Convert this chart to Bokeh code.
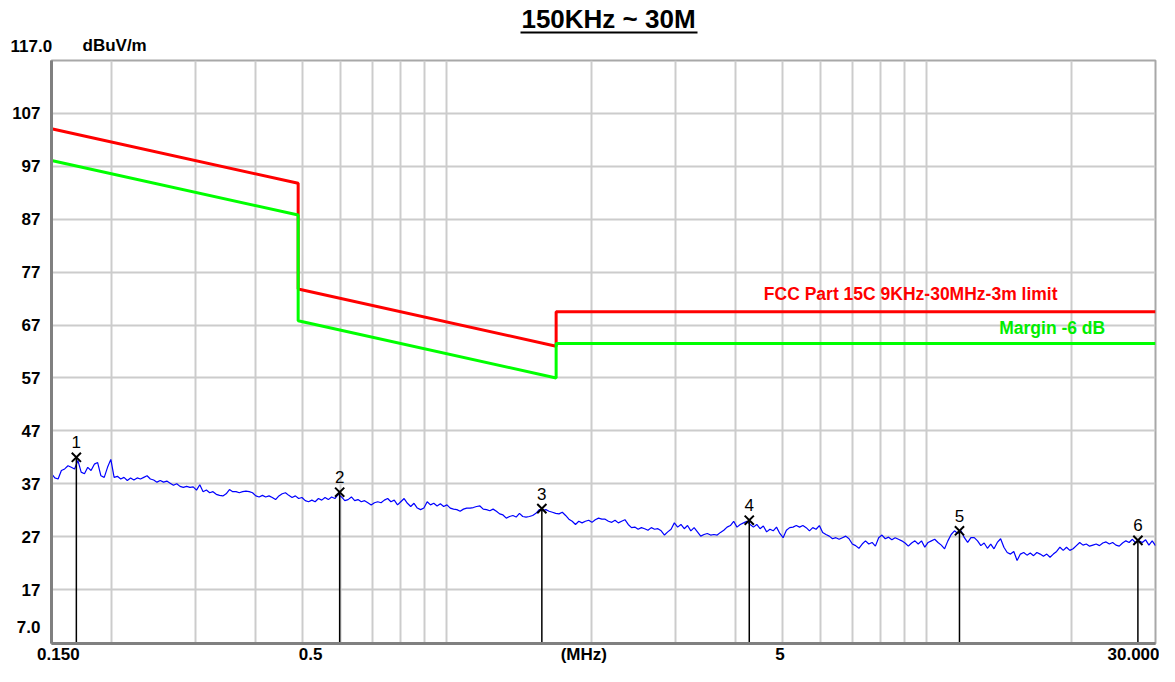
import numpy as np
from bokeh.plotting import figure
from bokeh.layouts import column
from bokeh.models import Range1d, FixedTicker, Label, ColumnDataSource
from bokeh.core.properties import value
from bokeh.embed import file_html
from bokeh.resources import INLINE

# ---------------- data ----------------
title_text = "150KHz ~ 30M"
y_unit = "dBuV/m"
y_top_label = "117.0"
y_bottom_label = "7.0"
y_ticks = [107, 97, 87, 77, 67, 57, 47, 37, 27, 17]
x_tick_labels = ["0.150", "0.5", "(MHz)", "5", "30.000"]
x_label_pos = [0.155, 0.52, 1.93, 4.95, 27.0]
x_grid = [0.2, 0.3, 0.4, 0.5, 0.6, 0.7, 0.8, 0.9, 1, 2, 3, 4, 5, 6, 7, 8, 9, 10, 20]

limit_name = "FCC Part 15C 9KHz-30MHz-3m limit"
margin_name = "Margin -6 dB"
limit_f = [0.15, 0.49, 0.49, 1.69, 1.69, 30]
limit_db = [104.1, 93.8, 73.8, 63.0, 69.5, 69.5]
margin_db = [98.1, 87.8, 67.8, 57.0, 63.5, 63.5]

marker_id = ["1", "2", "3", "4", "5", "6"]
marker_f = [0.169, 0.598, 1.578, 4.27, 11.71, 27.57]
marker_db = [42.0, 35.4, 32.3, 30.1, 28.1, 26.3]

# measured trace (sweep points, 0.15 - 30 MHz)
trace_db = [
    38.9, 38.1, 37.9, 39.5, 39.8, 40.4, 40.1, 39.8, 41.4, 39.2, 38.9, 40.1, 39.5, 40.7,
    41.0, 38.5, 38.2, 40.1, 41.6, 38.2, 38.4, 37.9, 38.2, 37.6, 38.1, 37.7, 38.1, 37.9,
    38.2, 38.5, 37.9, 37.7, 37.3, 37.6, 37.3, 37.5, 37.1, 36.7, 37.0, 36.5, 36.3, 36.5,
    36.3, 36.4, 35.8, 36.8, 35.5, 35.8, 35.3, 35.5, 35.0, 34.8, 34.7, 35.1, 35.9, 35.5,
    35.5, 35.3, 35.5, 35.6, 35.5, 35.3, 34.7, 34.5, 34.8, 34.5, 34.7, 34.4, 34.0, 34.7,
    35.1, 35.3, 34.8, 34.4, 34.7, 34.2, 34.4, 33.8, 33.6, 33.9, 33.6, 34.2, 33.9, 34.4,
    34.0, 34.5, 34.2, 35.0, 34.5, 33.8, 34.0, 34.5, 33.8, 34.0, 33.6, 33.8, 33.4, 33.0,
    33.4, 33.6, 33.4, 33.9, 34.2, 33.6, 33.9, 33.0, 33.6, 34.2, 33.3, 32.7, 33.3, 32.4,
    32.1, 32.4, 33.6, 33.0, 33.3, 32.8, 33.2, 32.7, 33.0, 32.4, 32.2, 32.1, 31.8, 32.2,
    32.4, 32.4, 32.5, 32.7, 32.8, 32.2, 32.1, 31.9, 32.2, 31.8, 31.3, 31.1, 30.5, 30.8,
    31.0, 30.7, 31.4, 30.8, 30.7, 30.8, 31.0, 31.4, 32.1, 31.9, 32.1, 31.8, 31.6, 31.4,
    31.3, 31.6, 31.0, 30.3, 29.9, 29.3, 29.9, 29.6, 29.9, 30.1, 29.7, 30.2, 30.5, 30.3,
    30.3, 29.9, 29.7, 30.1, 29.6, 29.9, 30.2, 29.3, 28.7, 28.8, 28.4, 28.7, 28.5, 28.2,
    28.7, 28.4, 28.5, 28.1, 27.3, 27.9, 28.4, 29.6, 28.8, 29.3, 28.5, 29.1, 28.1, 28.7,
    27.9, 27.1, 27.4, 27.6, 27.3, 27.4, 27.3, 27.8, 28.2, 28.8, 29.1, 29.9, 28.8, 29.3,
    29.6, 29.9, 29.3, 28.8, 29.3, 28.5, 29.0, 27.9, 28.4, 28.1, 28.8, 27.6, 26.8, 28.2,
    28.7, 28.8, 29.1, 28.8, 29.1, 28.7, 28.1, 28.7, 28.4, 29.1, 27.8, 27.4, 27.1, 26.6,
    26.8, 26.5, 26.8, 27.1, 26.6, 25.6, 25.3, 24.8, 25.6, 26.2, 25.6, 25.9, 25.2, 26.8,
    27.3, 26.6, 26.9, 26.4, 26.8, 26.5, 26.2, 25.8, 25.2, 25.8, 26.2, 25.6, 26.2, 25.0,
    25.9, 26.2, 26.5, 25.9, 25.4, 24.7, 26.2, 27.4, 28.1, 27.6, 28.1, 26.8, 25.9, 26.8,
    26.8, 26.2, 25.3, 25.8, 24.8, 25.6, 24.7, 25.9, 26.6, 25.0, 24.0, 23.7, 24.2, 22.5,
    23.7, 24.0, 23.5, 23.9, 23.4, 24.0, 23.7, 23.3, 23.7, 23.1, 23.7, 24.2, 25.0, 24.4,
    25.0, 24.4, 24.7, 25.3, 25.9, 25.4, 25.6, 25.2, 25.4, 25.6, 25.3, 25.8, 26.0, 25.6,
    25.9, 25.4, 25.2, 25.8, 26.2, 25.9, 26.5, 25.8, 26.2, 25.9, 26.4, 25.4, 26.2, 25.3,
]
f_start, f_stop = 0.15, 30.0
trace_f = np.geomspace(f_start, f_stop, len(trace_db))

y_min, y_max = 6.8, 117.0
y_bottom_tick = 10  # where the "7.0" bottom label sits

FONT = "Liberation Sans"

# ---------------- header (title) ----------------
W = 1159
HDR_H = 58
hdr = figure(width=W, height=HDR_H, x_range=Range1d(0, W), y_range=Range1d(HDR_H, 0),
             output_backend="svg", toolbar_location=None, min_border=0,
             x_axis_location=None, y_axis_location=None)
hdr.frame_align = False
hdr.grid.visible = False
hdr.outline_line_color = None
hdr.text(x=[608], y=[18], text=[title_text], text_align="center", text_baseline="middle",
         text_font=value(FONT), text_font_size="26px", text_font_style="bold", text_color="black")
hdr.segment(x0=[520], y0=[32], x1=[697], y1=[32], line_color="black", line_width=2)
hdr.text(x=[10, 82], y=[45, 45], text=[y_top_label, y_unit], text_align="left", text_baseline="middle",
         text_font=value(FONT), text_font_size="17px", text_font_style="bold", text_color="black")

# ---------------- main plot ----------------
p = figure(width=W, height=608, x_axis_type="log",
           x_range=Range1d(f_start, f_stop), y_range=Range1d(y_min, y_max),
           output_backend="svg", toolbar_location=None,
           min_border_left=51, min_border_right=4, min_border_top=2, min_border_bottom=22)
p.frame_align = False
p.background_fill_color = "white"
p.border_fill_color = "white"
p.outline_line_color = "#a8a8a8"
p.outline_line_width = 2

xa = p.xaxis[0]
ya = p.yaxis[0]
xa.ticker = FixedTicker(ticks=x_label_pos)
xa.major_label_overrides = {v: t for v, t in zip(x_label_pos, x_tick_labels)}
ya.ticker = FixedTicker(ticks=[y_bottom_tick] + y_ticks)
y_over = {t: str(t) for t in y_ticks}
y_over[y_bottom_tick] = y_bottom_label
ya.major_label_overrides = y_over
for ax in (xa, ya):
    ax.major_tick_out = 0
    ax.major_tick_in = 0
    ax.minor_tick_out = 0
    ax.minor_tick_in = 0
    ax.axis_line_color = "#808080"
    ax.axis_line_width = 3
    ax.major_label_text_font = FONT
    ax.major_label_text_font_size = "17px"
    ax.major_label_text_font_style = "bold"
    ax.major_label_text_color = "black"
xa.major_label_standoff = 1
ya.major_label_standoff = 11

p.xgrid.ticker = FixedTicker(ticks=x_grid)
p.ygrid.ticker = FixedTicker(ticks=y_ticks)
for g in (p.xgrid[0], p.ygrid[0]):
    g.grid_line_color = "#cccccc"
    g.grid_line_width = 2

# limit lines
p.line(limit_f, limit_db, line_color="#ff0000", line_width=3)
p.line(limit_f, margin_db, line_color="#00ff00", line_width=3)

# trace
p.line(trace_f, trace_db, line_color="#0000ff", line_width=1.2)

# markers
msrc = ColumnDataSource(dict(f=marker_f, db=marker_db, bottom=[y_min] * len(marker_f), txt=marker_id))
p.segment(x0="f", y0="db", x1="f", y1="bottom", source=msrc, line_color="black", line_width=1.5)
p.scatter(x="f", y="db", source=msrc, marker="x", size=13, line_color="black", line_width=2)
p.text(x="f", y="db", text="txt", source=msrc, text_align="center", text_baseline="middle",
       y_offset=-15, text_font=value(FONT), text_font_size="17px", text_color="black")

# limit labels
p.add_layout(Label(x=4.58, y=72.8, text=limit_name, text_align="left", text_baseline="middle",
                   text_font=FONT, text_font_size="17.5px", text_font_style="bold", text_color="#ff0000"))
p.add_layout(Label(x=14.17, y=66.5, text=margin_name, text_align="left", text_baseline="middle",
                   text_font=FONT, text_font_size="17.5px", text_font_style="bold", text_color="#00ee00"))

layout = column(hdr, p, spacing=0)
open("out.html", "w").write(file_html(layout, INLINE))
